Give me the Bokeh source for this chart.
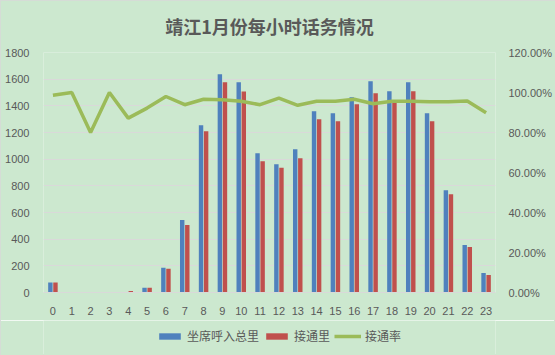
from bokeh.plotting import figure
from bokeh.layouts import column
from bokeh.models import (FactorRange, Range1d, LinearAxis, NumeralTickFormatter,
                          FixedTicker, ColumnDataSource, Legend, LegendItem)
from bokeh.transform import dodge
from bokeh.embed import file_html
from bokeh.resources import INLINE

hours = [str(i) for i in range(24)]
calls = [75, 0, 0, 0, 0, 35, 185, 544, 1254, 1636, 1576, 1045, 961, 1075,
         1359, 1344, 1464, 1584, 1509, 1576, 1344, 767, 356, 147]
connected = [75, 0, 0, 0, 12, 35, 178, 506, 1210, 1576, 1508, 985, 935, 1007,
             1299, 1284, 1411, 1494, 1434, 1509, 1284, 737, 341, 132]
rate = [0.986, 1.0, 0.80, 1.0, 0.872, 0.922, 0.98, 0.939, 0.966, 0.964, 0.956,
        0.939, 0.972, 0.936, 0.956, 0.956, 0.966, 0.944, 0.956, 0.956, 0.954,
        0.954, 0.958, 0.899]
left_ticks = [0, 200, 400, 600, 800, 1000, 1200, 1400, 1600, 1800]
right_ticks = [0, 0.2, 0.4, 0.6, 0.8, 1.0, 1.2]

title_text = "靖江1月份每小时话务情况"
names = ["坐席呼入总里", "接通里", "接通率"]

BG = "#CCE8CF"
TXT = "#595959"
GRID = "#D9D9D9"
CJK = "Noto Sans CJK SC"
NUM = "Liberation Sans"
BLUE, RED, GREEN = "#4F81BD", "#C0504D", "#9BBB59"

src = ColumnDataSource(dict(hour=hours, calls=calls, connected=connected, rate=rate))

p = figure(width=555, height=320, x_range=FactorRange(*hours, range_padding=0),
           y_range=Range1d(0, 1800), output_backend="svg", toolbar_location=None,
           min_border_left=43, min_border_right=60, min_border_top=51,
           min_border_bottom=28)
p.background_fill_color = BG
p.border_fill_color = BG
p.outline_line_color = None

p.title.text = title_text
p.title.align = "center"
p.title.vertical_align = "top"
p.title.text_color = TXT
p.title.text_font = CJK
p.title.text_font_style = "bold"
p.title.text_font_size = "18px"
p.title.standoff = 24

p.extra_y_ranges = {"pct": Range1d(0, 1.2)}

p.vbar(x=dodge("hour", -0.135, range=p.x_range), top="calls", width=0.235,
       source=src, fill_color=BLUE, line_color=None)
p.vbar(x=dodge("hour", 0.135, range=p.x_range), top="connected", width=0.235,
       source=src, fill_color=RED, line_color=None)
p.line(x="hour", y="rate", source=src, y_range_name="pct",
       line_color=GREEN, line_width=3.5)

# axes
p.xaxis.axis_line_color = GRID
p.xaxis.major_tick_line_color = None
p.xaxis.minor_tick_line_color = None
p.xaxis.major_label_text_color = TXT
p.xaxis.major_label_text_font = NUM
p.xaxis.major_label_text_font_size = "11px"
p.xaxis.major_label_standoff = 8

p.yaxis.ticker = FixedTicker(ticks=left_ticks)
p.yaxis.axis_line_color = None
p.yaxis.major_tick_line_color = None
p.yaxis.minor_tick_line_color = None
p.yaxis.major_label_text_color = TXT
p.yaxis.major_label_text_font = NUM
p.yaxis.major_label_text_font_size = "11px"
p.yaxis.major_label_standoff = 8

ra = LinearAxis(y_range_name="pct", ticker=FixedTicker(ticks=right_ticks),
                formatter=NumeralTickFormatter(format="0.00%"))
ra.axis_line_color = None
ra.major_tick_line_color = None
ra.minor_tick_line_color = None
ra.major_label_text_color = TXT
ra.major_label_text_font = NUM
ra.major_label_text_font_size = "11px"
ra.major_label_standoff = 7
p.add_layout(ra, "right")

p.xgrid.grid_line_color = None
p.ygrid.grid_line_color = GRID
p.ygrid.ticker = FixedTicker(ticks=left_ticks)

# legend strip
lf = figure(width=555, height=35, x_range=Range1d(0, 1), y_range=Range1d(0, 1),
            output_backend="svg", toolbar_location=None,
            x_axis_location=None, y_axis_location=None,
            min_border_left=0, min_border_right=0, min_border_top=0,
            min_border_bottom=0)
lf.grid.visible = False
lf.background_fill_color = BG
lf.border_fill_color = BG
lf.outline_line_color = None
dummy = ColumnDataSource(dict(x=[-5], y=[-5]))
r1 = lf.vbar(x="x", top="y", width=0.1, source=dummy, fill_color=BLUE, line_color=None)
r2 = lf.vbar(x="x", top="y", width=0.1, source=dummy, fill_color=RED, line_color=None)
r3 = lf.line(x="x", y="y", source=dummy, line_color=GREEN, line_width=3.5)

legend = Legend(items=[LegendItem(label=names[0], renderers=[r1]),
                       LegendItem(label=names[1], renderers=[r2]),
                       LegendItem(label=names[2], renderers=[r3])],
                orientation="horizontal", location=(113, 11),
                background_fill_alpha=0, border_line_color=None,
                padding=0, margin=0, spacing=4, label_standoff=4,
                glyph_width=27, glyph_height=8,
                label_text_font=CJK, label_text_font_size="12px",
                label_text_color=TXT)
lf.add_layout(legend, "center")

layout = column(p, lf, spacing=0)
layout.styles = {"outline": "1px solid #D9D9D9", "outline-offset": "-1px"}
html = file_html(layout, INLINE)
html = html.replace("<body>", '<body style="margin:0;background:%s">' % BG, 1)
open("out.html", "w").write(html)
